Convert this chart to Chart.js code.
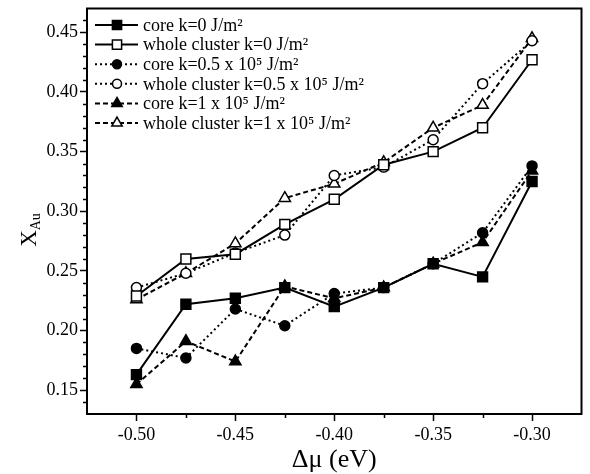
<!DOCTYPE html>
<html>
<head>
<meta charset="utf-8">
<script src="https://cdn.jsdelivr.net/npm/chart.js@4.4.1/dist/chart.umd.min.js"></script>
<style>
  html, body { margin: 0; padding: 0; background: #fff; }
</style>
</head>
<body>
<canvas id="chart" width="590" height="474"></canvas>
<script>
// Δμ (eV) values
const dMu = [-0.50, -0.475, -0.45, -0.425, -0.40, -0.375, -0.35, -0.325, -0.30];

// x_Au
const coreK0 = [0.163, 0.222, 0.227, 0.236, 0.220, 0.236, 0.256, 0.245, 0.325];
const wholeK0 = [0.229, 0.260, 0.264, 0.289, 0.310, 0.339, 0.350, 0.370, 0.427];
const coreK05 = [0.185, 0.177, 0.218, 0.204, 0.231, 0.236, 0.256, 0.282, 0.338];
const wholeK05 = [0.236, 0.248, 0.265, 0.280, 0.330, 0.337, 0.360, 0.407, 0.443];
const coreK1 = [0.155, 0.191, 0.174, 0.237, 0.227, 0.236, 0.256, 0.274, 0.334];
const wholeK1 = [0.226, 0.248, 0.273, 0.311, 0.323, 0.341, 0.370, 0.389, 0.445];

const seriesNames = [
  'core k=0 J/m²',
  'whole cluster k=0 J/m²',
  'core k=0.5 x 10⁵ J/m²',
  'whole cluster k=0.5 x 10⁵ J/m²',
  'core k=1 x 10⁵ J/m²',
  'whole cluster k=1 x 10⁵ J/m²'
];

// axis ticks
const xTicks = [-0.50, -0.45, -0.40, -0.35, -0.30];
const yTicks = [0.15, 0.20, 0.25, 0.30, 0.35, 0.40, 0.45];
const xMinorTicks = [-0.475, -0.425, -0.375, -0.325];

const SERIF = "'Liberation Serif', 'DejaVu Serif', serif";

const pts = (ys) => dMu.map((x, i) => ({ x: x, y: ys[i] }));

const mk = (label, ys, style, filled, dash, radius) => ({
  label: label,
  data: pts(ys),
  borderColor: '#000',
  borderWidth: 2,
  borderDash: dash,
  pointStyle: style,
  pointRadius: radius,
  pointBorderWidth: 1.5,
  pointBorderColor: '#000',
  pointBackgroundColor: filled ? '#000' : '#fff',
  fill: false,
  tension: 0
});

const datasets = [
  mk(seriesNames[0], coreK0, 'rect', true, [], 7),
  mk(seriesNames[1], wholeK0, 'rect', false, [], 7),
  mk(seriesNames[2], coreK05, 'circle', true, [2, 3], 5),
  mk(seriesNames[3], wholeK05, 'circle', false, [2, 3], 5),
  mk(seriesNames[4], coreK1, 'triangle', true, [5, 3], 6.5),
  mk(seriesNames[5], wholeK1, 'triangle', false, [5, 3], 6.5)
];

// box, minor ticks, legend, axis titles
const decor = {
  id: 'decor',
  afterDraw(chart) {
    const ctx = chart.ctx;
    const a = chart.chartArea;
    const xs = chart.scales.x, ys = chart.scales.y;
    ctx.save();
    ctx.strokeStyle = '#000';
    ctx.lineWidth = 2;
    ctx.strokeRect(a.left, a.top, a.right - a.left, a.bottom - a.top);

    // minor ticks
    ctx.lineWidth = 1.5;
    ctx.beginPath();
    xMinorTicks.forEach(v => {
      const px = Math.round(xs.getPixelForValue(v)) + 0.5;
      ctx.moveTo(px, a.bottom);
      ctx.lineTo(px, a.bottom + 4);
    });
    for (let i = 14; i <= 46; i++) {
      if (i % 5 === 0) continue;
      const py = Math.round(ys.getPixelForValue(i / 100)) + 0.5;
      ctx.moveTo(a.left, py);
      ctx.lineTo(a.left - 4, py);
    }
    ctx.stroke();

    // legend
    const lx0 = 95, lx1 = 138, mx = 117, tx = 143;
    ctx.font = '18px ' + SERIF;
    ctx.fillStyle = '#000';
    ctx.textBaseline = 'middle';
    ctx.textAlign = 'left';
    chart.data.datasets.forEach((ds, i) => {
      const y = 25 + i * 19.6;
      ctx.save();
      ctx.lineWidth = 2;
      ctx.setLineDash(ds.borderDash);
      ctx.beginPath();
      ctx.moveTo(lx0, y);
      ctx.lineTo(lx1, y);
      ctx.stroke();
      ctx.setLineDash([]);
      ctx.fillStyle = ds.pointBackgroundColor;
      ctx.strokeStyle = '#000';
      ctx.lineWidth = 1.5;
      Chart.helpers.drawPoint(ctx, {
        pointStyle: ds.pointStyle,
        radius: ds.pointRadius - 0.5,
        rotation: 0,
        borderWidth: 1.5
      }, mx, y);
      ctx.restore();
      ctx.fillText(ds.label, tx, y + 1);
    });

    // x axis title
    ctx.font = '26px ' + SERIF;
    ctx.textAlign = 'center';
    ctx.textBaseline = 'alphabetic';
    ctx.fillText('Δμ (eV)', (a.left + a.right) / 2, 467);

    // y axis title with subscript
    ctx.translate(36, 230);
    ctx.rotate(-Math.PI / 2);
    ctx.font = '23px ' + SERIF;
    const wX = ctx.measureText('X').width;
    ctx.font = '14px ' + SERIF;
    const wS = ctx.measureText('Au').width;
    const start = -(wX + wS) / 2;
    ctx.textAlign = 'left';
    ctx.font = '23px ' + SERIF;
    ctx.fillText('X', start, 0);
    ctx.font = '14px ' + SERIF;
    ctx.fillText('Au', start + wX, 4);
    ctx.restore();
  }
};

const tickFont = { family: SERIF, size: 18 };

new Chart(document.getElementById('chart'), {
  type: 'line',
  data: { datasets: datasets },
  plugins: [decor],
  options: {
    responsive: false,
    animation: false,
    layout: { padding: { top: 6, right: 5, left: 0, bottom: 0 } },
    plugins: { legend: { display: false }, tooltip: { enabled: false } },
    scales: {
      x: {
        type: 'linear',
        min: -0.525,
        max: -0.275,
        afterBuildTicks: (s) => { s.ticks = xTicks.map(v => ({ value: v })); },
        afterFit: (s) => { s.height = 60; s.paddingLeft = 0; s.paddingRight = 0; },
        grid: { display: true, drawOnChartArea: false, drawTicks: true, tickLength: 7, tickWidth: 1.5, tickColor: '#000' },
        border: { display: true, width: 2, color: '#000' },
        ticks: { font: tickFont, color: '#000', padding: 3, maxRotation: 0, callback: (v) => Number(v).toFixed(2) }
      },
      y: {
        type: 'linear',
        min: 0.13,
        max: 0.47,
        afterBuildTicks: (s) => { s.ticks = yTicks.map(v => ({ value: v })); },
        afterFit: (s) => { s.width = 87; s.paddingTop = 0; s.paddingBottom = 0; },
        grid: { display: true, drawOnChartArea: false, drawTicks: true, tickLength: 7, tickWidth: 1.5, tickColor: '#000' },
        border: { display: true, width: 2, color: '#000' },
        ticks: { font: tickFont, color: '#000', padding: 2, callback: (v) => Number(v).toFixed(2) }
      }
    }
  }
});
</script>
</body>
</html>
